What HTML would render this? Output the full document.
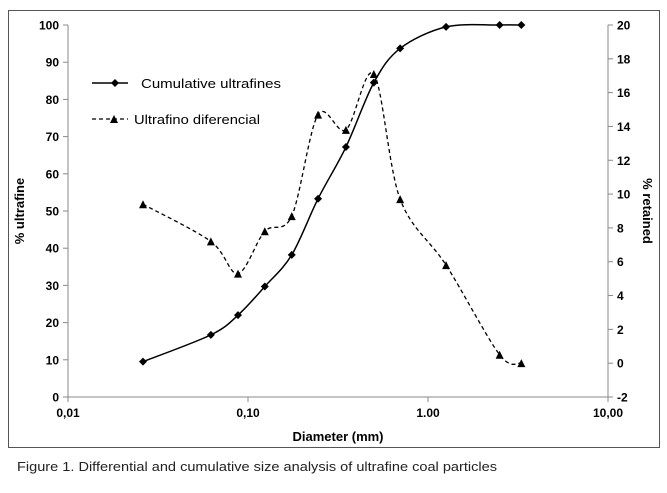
<!DOCTYPE html>
<html><head><meta charset="utf-8"><style>
body{margin:0;background:#fff;}
svg text{font-family:"Liberation Sans",Arial,sans-serif;}
</style></head><body>
<svg id="chart" width="667" height="488" viewBox="0 0 667 488" xmlns="http://www.w3.org/2000/svg">
<rect x="8.5" y="10.5" width="651" height="437" fill="none" stroke="#555" stroke-width="1"/>
<g id="axes"></g>
<g id="series"></g>
<g>
  <line x1="92" y1="83" x2="128" y2="83" stroke="#000" stroke-width="1.5"/>
  <path d="M115 79 L119 83 L115 87 L111 83 Z" fill="#000"/>
  <text x="141" y="88" font-size="13" textLength="140" lengthAdjust="spacingAndGlyphs">Cumulative ultrafines</text>
  <line x1="92" y1="119" x2="128" y2="119" stroke="#000" stroke-width="1.3" stroke-dasharray="4,3"/>
  <path d="M110 123 L114 115 L118 123 Z" fill="#000"/>
  <text x="134" y="124" font-size="13" textLength="126" lengthAdjust="spacingAndGlyphs">Ultrafino diferencial</text>
</g>
<text x="338" y="441" font-size="13" font-weight="bold" text-anchor="middle">Diameter (mm)</text>
<text transform="translate(24,211) rotate(-90)" font-size="13" font-weight="bold" text-anchor="middle">% ultrafine</text>
<text transform="translate(643,211) rotate(90)" font-size="13" font-weight="bold" text-anchor="middle">% retained</text>
<text x="17" y="471" font-size="13" fill="#222" textLength="480" lengthAdjust="spacingAndGlyphs">Figure 1. Differential and cumulative size analysis of ultrafine coal particles</text>
</svg>
<script>
const diameters = [0.0261, 0.0622, 0.088, 0.124, 0.175, 0.245, 0.35, 0.50, 0.70, 1.26, 2.5, 3.3];
const cumulative = [9.5, 16.7, 22, 29.7, 38.2, 53.3, 67.2, 84.5, 93.7, 99.5, 100, 100];
const differential = [9.4, 7.2, 5.3, 7.8, 8.7, 14.7, 13.8, 17.1, 9.7, 5.8, 0.5, 0.0];
const xTicks = [0.01, 0.1, 1, 10];
const xTickLabels = ["0,01", "0,10", "1.00", "10,00"];
const leftTicks = [0,10,20,30,40,50,60,70,80,90,100];
const rightTicks = [-2,0,2,4,6,8,10,12,14,16,18,20];

const NS = "http://www.w3.org/2000/svg";
const X0 = 68, X1 = 608, Y0 = 397, Y1 = 25;
const xs = v => X0 + (Math.log10(v) + 2) / 3 * (X1 - X0);
const yl = v => Y0 - v / 100 * (Y0 - Y1);
const yr = v => Y0 - (v + 2) / 22 * (Y0 - Y1);
function mk(tag, attrs, parent){const e=document.createElementNS(NS,tag);for(const k in attrs)e.setAttribute(k,attrs[k]);parent.appendChild(e);return e;}
const axes = document.getElementById('axes');
const ser = document.getElementById('series');
let a = mk('line',{x1:X0,y1:Y1,x2:X0,y2:Y0,stroke:'#888'},axes);


a = mk('line',{x1:X1,y1:Y1,x2:X1,y2:Y0,stroke:'#888'},axes);


a = mk('line',{x1:X0,y1:Y0,x2:X1,y2:Y0,stroke:'#888'},axes);


xTicks.forEach((t,i)=>{
  mk('line',{x1:xs(t),y1:Y0,x2:xs(t),y2:Y0+5,stroke:'#888'},axes);
  const tx = mk('text',{x:xs(t),y:Y0+20,'font-size':12,'font-weight':'bold','text-anchor':'middle'},axes);
  tx.textContent = xTickLabels[i];
  
  
});
leftTicks.forEach(t=>{
  mk('line',{x1:X0-5,y1:yl(t),x2:X0,y2:yl(t),stroke:'#888'},axes);
  const tx = mk('text',{x:X0-9,y:yl(t)+4.5,'font-size':12,'font-weight':'bold','text-anchor':'end'},axes);
  tx.textContent = t;
  
  
});
rightTicks.forEach(t=>{
  mk('line',{x1:X1,y1:yr(t),x2:X1+5,y2:yr(t),stroke:'#888'},axes);
  const tx = mk('text',{x:X1+9,y:yr(t)+4.5,'font-size':12,'font-weight':'bold'},axes);
  tx.textContent = t;
  
  
});
function smooth(pts){
  let d = `M${pts[0][0]},${pts[0][1]}`;
  for(let i=0;i<pts.length-1;i++){
    const p0=pts[Math.max(0,i-1)],p1=pts[i],p2=pts[i+1],p3=pts[Math.min(pts.length-1,i+2)];
    const k=0.16;
    d+=` C${p1[0]+(p2[0]-p0[0])*k},${p1[1]+(p2[1]-p0[1])*k} ${p2[0]-(p3[0]-p1[0])*k},${p2[1]-(p3[1]-p1[1])*k} ${p2[0]},${p2[1]}`;
  }
  return d;
}
const cp = diameters.map((d,i)=>[xs(d),yl(cumulative[i])]);
const dp = diameters.map((d,i)=>[xs(d),yr(differential[i])]);
let l = mk('path',{d:smooth(dp),fill:'none',stroke:'#000','stroke-width':1.3,'stroke-dasharray':'4,3'},ser);


l = mk('path',{d:smooth(cp),fill:'none',stroke:'#000','stroke-width':1.5},ser);


cp.forEach(([x,y])=>{
  const m = mk('path',{d:`M${x} ${y-4} L${x+4} ${y} L${x} ${y+4} L${x-4} ${y} Z`,fill:'#000'},ser);
  
  
});
dp.forEach(([x,y])=>{
  const m = mk('path',{d:`M${x-4} ${y+4} L${x} ${y-4} L${x+4} ${y+4} Z`,fill:'#000'},ser);
  
  
});
</script>
</body></html>
